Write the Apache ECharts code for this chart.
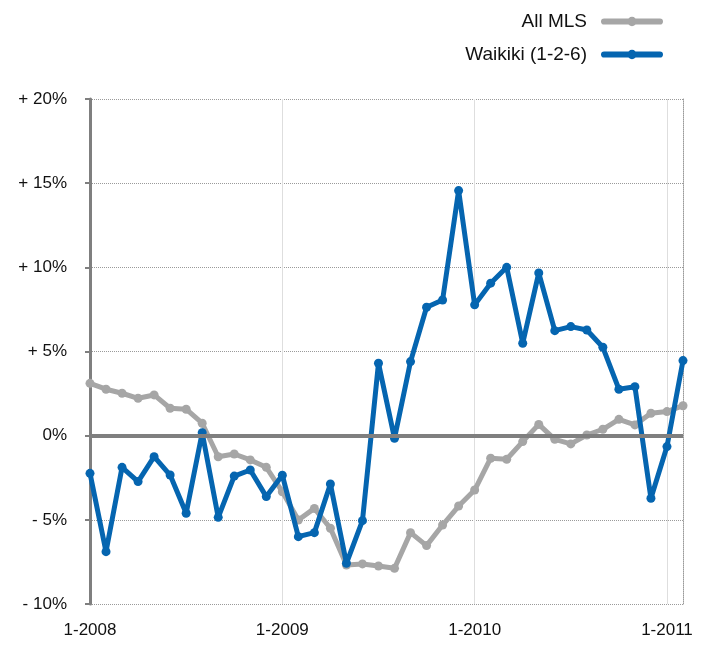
<!DOCTYPE html>
<html>
<head>
<meta charset="utf-8">
<script src="https://cdn.jsdelivr.net/npm/echarts@6/dist/echarts.min.js"></script>
<style>html,body{margin:0;padding:0;background:#fff;}#c{width:707px;height:645px;}</style>
</head>
<body>
<div id="c"></div>
<script>
const categories = [
  "1-2008","2-2008","3-2008","4-2008","5-2008","6-2008","7-2008","8-2008","9-2008","10-2008","11-2008","12-2008",
  "1-2009","2-2009","3-2009","4-2009","5-2009","6-2009","7-2009","8-2009","9-2009","10-2009","11-2009","12-2009",
  "1-2010","2-2010","3-2010","4-2010","5-2010","6-2010","7-2010","8-2010","9-2010","10-2010","11-2010","12-2010",
  "1-2011","2-2011"
];
const allMLS = [
  3.11, 2.76, 2.52, 2.22, 2.42, 1.63, 1.57, 0.74, -1.25, -1.09, -1.44, -1.88,
  -3.33, -5.01, -4.32, -5.5, -7.68, -7.62, -7.74, -7.88, -5.76, -6.53, -5.31, -4.18,
  -3.23, -1.34, -1.40, -0.35, 0.67, -0.22, -0.49, 0.04, 0.38, 0.97, 0.64, 1.33,
  1.43, 1.78
];
const waikiki = [
  -2.24, -6.89, -1.88, -2.73, -1.25, -2.34, -4.61, 0.18, -4.85, -2.40, -2.04, -3.62,
  -2.35, -6.0, -5.76, -2.87, -7.58, -5.05, 4.30, -0.16, 4.40, 7.63, 8.06, 14.56,
  7.77, 9.06, 10.0, 5.49, 9.67, 6.24, 6.48, 6.28, 5.25, 2.76, 2.91, -3.72,
  -0.65, 4.46
];
const seriesNames = ["All MLS", "Waikiki (1-2-6)"];
const yTickLabels = {"20":"+ 20%","15":"+ 15%","10":"+ 10%","5":"+ 5%","0":"0%","-5":"- 5%","-10":"- 10%"};

const FONT = "'Liberation Sans', Arial, Helvetica, sans-serif";
const legendIcon = 'path://M3,2 L57,2 A3,3 0 0 1 57,8 L3,8 A3,3 0 0 1 3,2 Z M30,0.5 A4.5,4.5 0 1 1 30,9.5 A4.5,4.5 0 1 1 30,0.5 Z';
const chart = echarts.init(document.getElementById('c'), null, {renderer: 'canvas'});
chart.setOption({
  animation: false,
  backgroundColor: '#ffffff',
  textStyle: {fontFamily: FONT},
  legend: {
    orient: 'vertical',
    right: 39,
    top: 7,
    align: 'right',
    itemWidth: 62,
    itemHeight: 10,
    itemGap: 14,
    textStyle: {fontFamily: FONT, fontSize: 19, color: '#111', padding: [0, 9, 0, 0]},
    data: [
      {name: seriesNames[0], icon: legendIcon},
      {name: seriesNames[1], icon: legendIcon}
    ]
  },
  grid: {left: 90, right: 24, top: 99, bottom: 41, containLabel: false},
  xAxis: {
    type: 'category',
    data: categories,
    boundaryGap: false,
    axisLine: {show: false},
    axisTick: {show: false},
    axisLabel: {
      interval: (i) => i % 12 === 0,
      margin: 18,
      fontSize: 17,
      color: '#111',
      fontFamily: FONT
    },
    splitLine: {
      show: true,
      interval: (i) => i % 12 === 0,
      lineStyle: {color: '#dedede', width: 1}
    }
  },
  yAxis: [{
    type: 'value',
    min: -10, max: 20, interval: 5,
    axisLine: {show: true, lineStyle: {color: '#7f7f7f', width: 3}},
    axisTick: {show: true, length: 5, lineStyle: {color: '#7f7f7f', width: 2}},
    axisLabel: {
      margin: 23,
      fontSize: 17,
      color: '#111',
      fontFamily: FONT,
      formatter: (v) => yTickLabels[String(v)] || ''
    },
    splitLine: {show: true, lineStyle: {color: '#9a9a9a', width: 1, type: [1, 1]}}
  }, {
    type: 'value',
    position: 'right',
    min: -10, max: 20, interval: 5,
    axisLine: {show: true, lineStyle: {color: '#9a9a9a', width: 1, type: [1, 1]}},
    axisTick: {show: false},
    axisLabel: {show: false},
    splitLine: {show: false}
  }],
  series: [{
    name: seriesNames[0],
    type: 'line',
    data: allMLS,
    symbol: 'circle',
    symbolSize: 9,
    color: '#a6a6a6',
    lineStyle: {width: 5, color: '#a6a6a6'},
    itemStyle: {color: '#a6a6a6'},
    z: 3,
    markLine: {
      silent: true,
      symbol: 'none',
      label: {show: false},
      lineStyle: {color: '#7f7f7f', width: 4, type: 'solid'},
      data: [{yAxis: 0}]
    }
  }, {
    name: seriesNames[1],
    type: 'line',
    data: waikiki,
    symbol: 'circle',
    symbolSize: 9,
    color: '#0565b0',
    lineStyle: {width: 5, color: '#0565b0'},
    itemStyle: {color: '#0565b0'},
    z: 4
  }]
});
</script>
</body>
</html>
